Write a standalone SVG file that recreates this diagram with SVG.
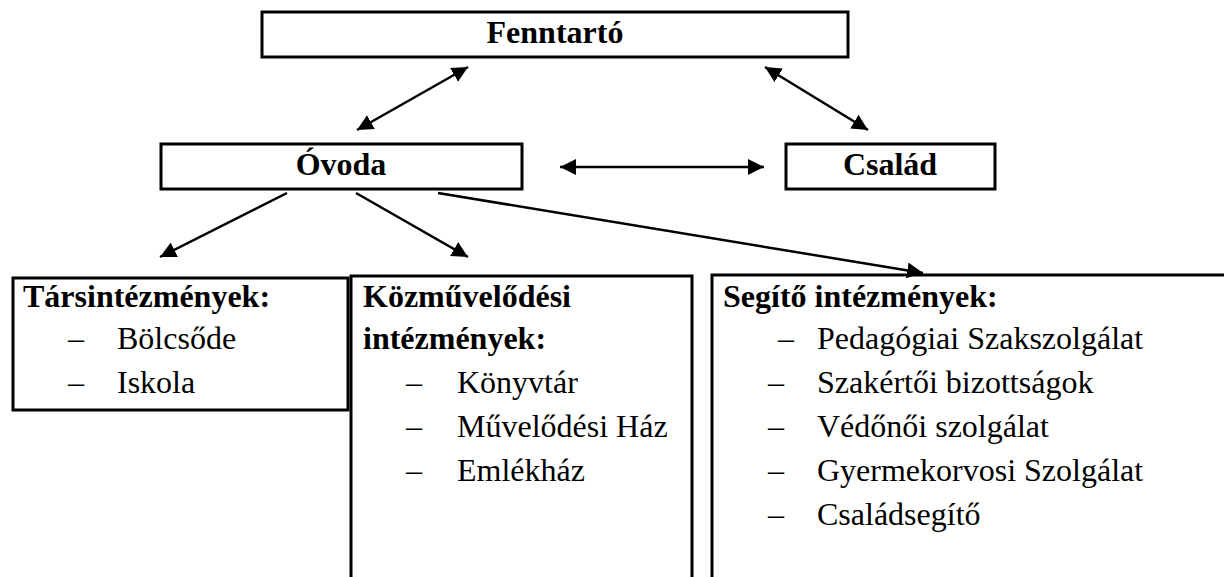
<svg xmlns="http://www.w3.org/2000/svg" width="1224" height="577" viewBox="0 0 1224 577">
<style>
.box{fill:#fff;stroke:#000;stroke-width:3}
.open{fill:none;stroke:#000;stroke-width:3}
.t{font-family:"Liberation Serif","Times New Roman",serif;font-size:32px;fill:#000}
.b{font-weight:bold}
.c{text-anchor:middle}
.con line{stroke:#000;stroke-width:2.5;fill:none}
</style>
<defs>
<marker id="ah" markerUnits="userSpaceOnUse" markerWidth="16" markerHeight="16" refX="16" refY="8" orient="auto-start-reverse">
<path d="M0,0 L16,8 L0,16 z" fill="#000"/>
</marker>
</defs>
<rect width="1224" height="577" fill="#fff"/>
<g id="fenntarto">
<rect class="box" x="262" y="12" width="586" height="45"/>
<text class="t b c" x="555" y="43">Fenntartó</text>
</g>
<g id="ovoda">
<rect class="box" x="161" y="144" width="361" height="45"/>
<text class="t b c" x="341" y="175">Óvoda</text>
</g>
<g id="csalad">
<rect class="box" x="786" y="144" width="209" height="45"/>
<text class="t b c" x="890" y="175">Család</text>
</g>
<g id="tarsintezmenyek">
<rect class="box" x="13" y="278" width="335" height="132"/>
<text class="t b" x="23" y="307">Társintézmények:</text>
<text class="t" x="68" y="349">–</text>
<text class="t" x="117" y="349">Bölcsőde</text>
<text class="t" x="68" y="393">–</text>
<text class="t" x="117" y="393">Iskola</text>
</g>
<g id="kozmuvelodesi">
<path class="open" d="M351,580 V276 H692 V580"/>
<text class="t b" x="363" y="307">Közművelődési</text>
<text class="t b" x="363" y="349">intézmények:</text>
<text class="t" x="406" y="393">–</text>
<text class="t" x="457" y="393">Könyvtár</text>
<text class="t" x="406" y="437">–</text>
<text class="t" x="457" y="437">Művelődési Ház</text>
<text class="t" x="406" y="481">–</text>
<text class="t" x="457" y="481">Emlékház</text>
</g>
<g id="segito">
<path class="open" d="M712,580 V275 H1230"/>
<text class="t b" x="723" y="307">Segítő intézmények:</text>
<text class="t" x="778" y="349">–</text>
<text class="t" x="817" y="349">Pedagógiai Szakszolgálat</text>
<text class="t" x="768" y="393">–</text>
<text class="t" x="817" y="393">Szakértői bizottságok</text>
<text class="t" x="768" y="437">–</text>
<text class="t" x="817" y="437">Védőnői szolgálat</text>
<text class="t" x="768" y="481">–</text>
<text class="t" x="817" y="481">Gyermekorvosi Szolgálat</text>
<text class="t" x="768" y="525">–</text>
<text class="t" x="817" y="525">Családsegítő</text>
</g>
<g id="connectors" class="con">
<line x1="357" y1="130" x2="468" y2="67" marker-start="url(#ah)" marker-end="url(#ah)"/>
<line x1="765" y1="67" x2="868" y2="130" marker-start="url(#ah)" marker-end="url(#ah)"/>
<line x1="560" y1="167" x2="764" y2="167" marker-start="url(#ah)" marker-end="url(#ah)"/>
<line x1="287" y1="193" x2="160" y2="257" marker-end="url(#ah)"/>
<line x1="356" y1="193" x2="468" y2="257" marker-end="url(#ah)"/>
<line x1="438" y1="193" x2="923" y2="273" marker-end="url(#ah)"/>
</g>
</svg>
